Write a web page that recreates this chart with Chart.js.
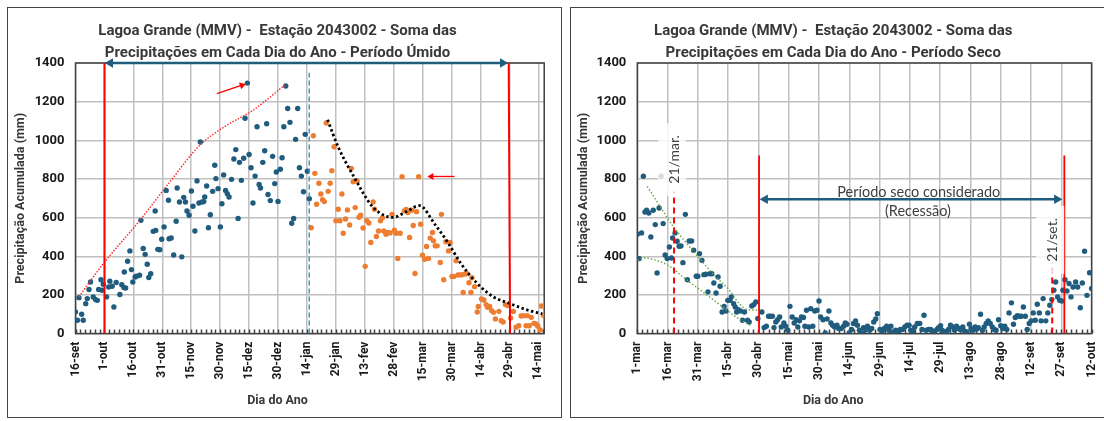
<!DOCTYPE html>
<html>
<head>
<meta charset="utf-8">
<script src="https://cdn.jsdelivr.net/npm/chart.js@4.4.1/dist/chart.umd.min.js"></script>
<style>
body { margin: 0; background: #fff; width: 1104px; height: 421px; overflow: hidden; position: relative; }
.box { position: absolute; top: 7px; height: 411px; border: 1px solid #444; box-sizing: border-box; background: #fff; overflow: hidden; }
#b1 { left: 7px; width: 555px; }
#b2 { left: 570px; width: 545px; }
canvas { display: block; }
</style>
</head>
<body>
<div class="box" id="b1"><canvas id="wet" width="553" height="409"></canvas></div>
<div class="box" id="b2"><canvas id="dry" width="543" height="409"></canvas></div>
<script>
// eixo x = dias contados a partir de 16-set (úmido) e de 1-mar (seco)
const wetTickLabels = ['16-set','1-out','16-out','31-out','15-nov','30-nov','15-dez','30-dez','14-jan','29-jan','13-fev','28-fev','15-mar','30-mar','14-abr','29-abr','14-mai'];
const dryTickLabels = ['1-mar','16-mar','31-mar','15-abr','30-abr','15-mai','30-mai','14-jun','29-jun','14-jul','29-jul','13-ago','28-ago','12-set','27-set','12-out'];

const wetBlueDays = [0,1,1.8,3.2,4,5.3,6.1,7,7.8,9.2,10.4,11.3,12,13.2,13.7,14.4,16.1,17.2,17.8,19,19.9,21.1,23,24,25.1,25.3,26,27,28.2,29,29.7,30.9,31.6,33.2,33.9,35.1,36.1,37.2,38,39,40.3,41.3,41.6,42.7,43.7,44.7,45.9,47,48.2,48.5,49.6,50.9,52.2,52.7,53.9,55.1,56.1,57,57.8,58.9,60.1,60.9,61.9,63,64,64.7,65.6,66.5,67,68,68.9,69.9,71.1,72.2,72.8,73.9,75.1,75.9,76.8,77.8,78.7,79.6,80.9,82.1,83.1,84.3,85,86,87.2,87.9,89.1,90,91,92,93.1,94.1,95.2,95.9,97.1,98.1,99.1,99.8,101,102.2,103.3,104.1,105,106.2,107.1,108,109,110,111.2,112.1,113.1,114.1,115.2,116.1,117.1,118.2,119.1,120.2,121.2];
const wetBlueValues = [112,69,186,100,69,155,181,228,267,190,176,172,228,279,224,255,190,241,271,245,138,264,202,253,238,319,236,374,428,331,267,293,297,302,586,440,410,359,290,310,529,634,534,436,434,488,552,741,690,491,495,407,581,753,681,397,705,681,634,612,738,659,531,790,676,991,681,683,707,764,548,615,736,871,802,750,552,672,821,741,724,707,798,903,952,596,886,793,907,1114,1296,927,858,676,815,1070,772,753,886,946,1086,720,688,917,776,836,684,850,910,1070,1281,1165,1093,571,596,1005,1165,858,815,734,1031,840,698];

const wetOrangeDays = [122.2,123.3,124.1,125,126.2,127.2,128.1,129,130,131,132,132.9,134.1,135,136.2,137.1,138.1,138.8,140,141,142.1,143,144,145,146,147,147.8,149.1,150.2,151,152.1,153.1,154.3,155,156,157.1,158.1,159.1,159.8,161,161.9,163.1,164.1,165.3,166.2,167.1,168.3,169.3,170.5,171.4,172.4,173.2,174.3,175.1,176,176.8,177.9,178.9,179.9,181,182,183,183.9,185.1,185.6,186.5,187.5,189.1,189.7,190.9,192,193.4,194.2,195.2,196.1,197.3,198.3,199.5,200.4,201,201.9,202.8,204,205,205.5,206.9,208.3,208.8,210.5,211.7,212.9,213.6,214.7,215.7,216.7,217.7,219.5,220.7,221.7,222.9,224,225.6,227,228.4,229.8,231,232.2,233.6,234.2,235.3,236.3,237.7,238.7,239.7,240.9,241.6,242.8];
const wetOrangeValues = [548,1024,829,669,778,722,693,683,1090,736,778,843,967,584,643,584,722,519,593,640,562,855,786,652,790,602,612,546,348,584,572,471,681,643,502,531,584,600,531,514,523,521,617,535,519,389,519,812,635,642,626,497,638,559,311,631,812,566,406,385,451,389,494,523,480,454,454,368,617,279,475,428,471,296,296,377,303,304,304,213,308,311,263,213,289,243,112,140,179,174,150,136,140,119,110,76,115,67,60,150,146,81,114,33,41,91,93,41,93,41,84,53,50,38,19,143,93];

const wetRiseDays = [1.8,14.3,33.2,48.7,64.2,77.9,91.7,108.5];
const wetRiseValues = [191,360,584,782,972,1075,1153,1286];
const wetFallDays = [130.7,136.3,145,153.5,160.4,164.7,170.7,178.4,186.2,193,200,208.5,217,224.8,234.3,242];
const wetFallValues = [1106,963,800,662,610,601,627,662,567,472,360,257,188,157,122,102];

const dryDays = [0,1,2.1,3,3.8,4.6,5.7,6.7,7.9,8.9,9.8,10.8,11.8,12.8,13.8,14.8,15.9,16.9,17.5,18.7,19.7,20.7,21.6,22.6,23.8,24.8,25.7,26.9,27.9,29.2,30,30.8,32,33,34,35,36,36.9,37.9,39,40,41,42,43,43.9,44.8,45.9,46.6,47.7,48.5,49.2,50,51.1,52.1,53.1,54.6,55.4,56.7,57.7,58.7,59.7,
  61.7,62.8,63.9,65,65.9,66.9,67.7,68.6,69.5,70.5,71.3,72.6,73.5,74.5,75.6,76.7,77.7,78.7,79.5,80.3,81.3,82.3,83,83.8,84.9,85.9,86.9,87.9,89,90,90.8,92,93.1,94,94.9,95.9,96.7,97.7,98.9,99.7,101,102.2,103,103.8,104.9,106.1,107.1,108.1,109,110,110.9,112,112.8,114,115.1,116.1,117.1,118.1,118.9,120.2,121.3,122.3,123.5,124.6,125.6,126.7,127.9,129.2,130.2,131.3,132.5,133.6,134.6,135.4,136.6,137.4,138.7,
  139.9,141,142,143.1,144.3,145.3,146.3,147.2,148.4,149.2,150.2,151,152,153.1,154.1,155.1,156.3,157.1,158.1,159.1,160,161.2,162,163.3,164.5,165.3,166.3,167.3,168.2,168.9,170,171,171.8,172.8,173.8,174.8,175.8,176.8,177.7,178.9,180,181,182,183,184.1,185.3,186.3,187.2,188.2,189.2,190.2,191.2,192.2,193.1,194.1,195.1,196.1,197.1,198.1,199.1,200,201,202.3,203.3,204.3,205.3,206.3,207.2,208.2,209.2,210.2,210.8,211.8,212.8,213.8,214.8,215.8,217.1,218.1,219.4,220.4,221.5,222.7,224,225];
const dryValues = [514,388,521,814,629,638,624,500,638,564,314,650,814,569,407,388,448,391,495,521,478,452,453,367,617,279,479,479,431,297,297,414,379,305,307,216,310,310,262,210,293,245,112,141,117,172,172,190,155,138,112,124,117,69,112,69,60,143,150,164,78,
  112,31,38,90,90,90,31,60,72,86,34,55,38,17,141,86,55,72,34,66,86,83,38,121,34,129,38,117,121,169,86,72,3,76,117,55,43,34,43,26,26,38,55,48,3,21,52,66,43,17,3,31,17,38,17,26,60,76,103,21,14,26,38,17,38,9,17,14,21,21,34,43,43,17,14,34,52,
  52,21,95,17,21,21,14,9,21,31,41,17,9,10,21,43,34,17,38,26,21,34,14,9,48,26,17,34,24,31,100,17,34,52,66,52,34,21,17,72,41,26,38,21,107,159,48,83,93,90,90,138,90,21,52,66,107,69,152,107,66,181,66,107,147,176,224,267,190,172,169,224,279,221,259,190,241,267,241,134,262,426,198,315,233];

const dryUpperDays = [4.9,13,17.7,25,31.6,37.4,45.6,50.5,54.6,59.5,61];
const dryUpperValues = [762,630,555,460,379,310,224,155,124,122,122];
const dryLowerDays = [0,3.8,9.5,16.1,22.6,29.2,35.7,42.3,48.9,53.8,56.2];
const dryLowerValues = [379,391,379,348,293,241,190,138,86,55,43];

const dryTagDays = [18.2, 205.5];
const dryTagValues = [901, 485];
const dryTagTexts = ['21/mar.', '21/set.'];

const pts = (xs, ys) => xs.map((x, i) => ({x: x, y: ys[i]}));
const BLUE = '#1f5c7e', ORANGE = '#ed7d31', RED = '#ff0000';
const FAM = 'Lato, "Open Sans", sans-serif';
const BOLD = 'Roboto, "Noto Sans", sans-serif';

function line(xs, ys, color, width, dash, extra) {
  return Object.assign({type: 'line', data: pts(xs, ys), borderColor: color, borderWidth: width,
    borderDash: dash || [], pointRadius: 0, fill: false, tension: 0}, extra || {});
}
function dots(xs, ys, color) {
  return {type: 'scatter', data: pts(xs, ys), backgroundColor: color, borderColor: color, borderWidth: 0, pointRadius: 2.7};
}
function arrow(xs, ys, color, width, radius, rotation) {
  return line(xs, ys, color, width, [], {pointStyle: 'triangle', pointRadius: radius, pointRotation: rotation,
    pointBackgroundColor: color, pointBorderWidth: 0, clip: false});
}

const frame = {
  id: 'frame',
  beforeDatasetsDraw(chart) {
    const {ctx, chartArea: a, scales: {x}} = chart;
    ctx.save();
    ctx.strokeStyle = '#404040';
    ctx.lineWidth = 1.5;
    ctx.strokeRect(a.left, a.top, a.right - a.left, a.bottom - a.top);
    ctx.beginPath();
    for (let d = 0; d <= x.max; d += 2.5) {
      const px = Math.round(x.getPixelForValue(d)) + 0.5;
      ctx.moveTo(px, a.bottom);
      ctx.lineTo(px, a.bottom - 4);
    }
    ctx.stroke();
    ctx.restore();
  }
};

const dryNotes = {
  id: 'dryNotes',
  afterDatasetsDraw(chart) {
    const {ctx, scales: {x, y}} = chart;
    ctx.save();
    ctx.font = '14px ' + FAM;
    dryTagTexts.forEach((t, i) => {
      const cx = x.getPixelForValue(dryTagDays[i]), cy = y.getPixelForValue(dryTagValues[i]);
      const w = ctx.measureText(t).width;
      ctx.save();
      ctx.translate(cx, cy);
      ctx.rotate(-Math.PI / 2);
      ctx.fillStyle = 'rgba(255,255,255,0.8)';
      ctx.fillRect(-w / 2 - 12, -16, w + 24, 28);
      ctx.fillStyle = '#404040';
      ctx.textAlign = 'center';
      ctx.textBaseline = 'middle';
      ctx.fillText(t, 0, 0);
      ctx.restore();
    });
    ctx.font = '14.5px ' + FAM;
    ctx.fillStyle = '#404040';
    ctx.textAlign = 'center';
    ctx.textBaseline = 'middle';
    ctx.fillText('Período seco considerado', x.getPixelForValue(139.4), y.getPixelForValue(732));
    ctx.fillText('(Recessão)', x.getPixelForValue(139), y.getPixelForValue(634));
    ctx.restore();
  }
};

function options(title, labels, max, yWidth, padRight) {
  return {
    responsive: false,
    animation: false,
    layout: {padding: {left: 0, right: padRight, top: 0, bottom: 0}},
    plugins: {
      legend: {display: false},
      tooltip: {enabled: false},
      title: {display: true, text: title, color: '#383838', font: {family: BOLD, size: 15, weight: 'bold', lineHeight: 1.467}, padding: {top: 12, bottom: -1}},
      subtitle: {display: true, position: 'bottom', text: 'Dia do Ano', color: '#383838', font: {family: BOLD, size: 12.5, weight: 'bold', lineHeight: 1.2}, padding: {top: 9, bottom: 9}}
    },
    scales: {
      x: {
        type: 'linear', min: 0, max: max,
        afterBuildTicks: ax => { ax.ticks = labels.map((l, i) => ({value: i * 15})); },
        afterFit: s => { s.height = 50.4; },
        ticks: {autoSkip: false, minRotation: 90, maxRotation: 90, padding: 8, color: '#1a1a1a',
          font: {family: BOLD, size: 12, weight: 'bold'}, callback: (v) => labels[Math.round(v / 15)]},
        grid: {color: '#c0c0c0', lineWidth: 1.5, drawTicks: false},
        border: {display: false}
      },
      y: {
        min: 0, max: 1400,
        afterFit: s => { s.width = yWidth; },
        ticks: {stepSize: 200, padding: 11, color: '#1a1a1a', font: {family: BOLD, size: 13, weight: 'bold'}, callback: v => String(v)},
        grid: {color: '#c0c0c0', lineWidth: 1.5, drawTicks: false},
        border: {display: false},
        title: {display: true, text: 'Precipitação Acumulada (mm)', color: '#383838',
          font: {family: BOLD, size: 12.5, weight: 'bold', lineHeight: 1.2}, padding: {top: 5, bottom: 0}}
      }
    }
  };
}

new Chart('wet', {
  type: 'scatter',
  data: {datasets: [
    arrow([18, 221.5], [1400, 1400], BLUE, 2.5, [5.5, 5.5], [270, 90]),
    arrow([73.3, 86.3], [1242, 1285], RED, 1.3, [0, 4], [0, 72]),
    arrow([196.5, 184.5], [813, 813], RED, 1.3, [0, 4], [0, 270]),
    line([15, 15], [0, 1400], RED, 2),
    line([225.3, 224.6], [0, 1400], RED, 2),
    line([121.2, 121.2], [0, 1350], '#3a9ad2', 1.5, [5, 3]),
    line(wetRiseDays, wetRiseValues, '#ff3030', 1.5, [1.5, 1.5], {cubicInterpolationMode: 'monotone'}),
    line(wetFallDays, wetFallValues, '#000000', 2.8, [2.4, 2.6], {cubicInterpolationMode: 'monotone'}),
    dots(wetOrangeDays, wetOrangeValues, ORANGE),
    dots(wetBlueDays, wetBlueValues, BLUE)
  ]},
  options: options(['Lagoa Grande (MMV) -  Estação 2043002 - Soma das', 'Precipitações em Cada Dia do Ano - Período Úmido'], wetTickLabels, 243, 67.5, 14),
  plugins: [frame]
});

new Chart('dry', {
  type: 'scatter',
  data: {datasets: [
    arrow([63.3, 207.8], [695, 695], BLUE, 2.5, [5.5, 5.5], [270, 90]),
    line([60.3, 60.3], [0, 921], RED, 1.8),
    line([211.5, 211.5], [0, 921], RED, 1.8),
    line([dryTagDays[0], dryTagDays[0]], [0, 735], RED, 2, [6, 4]),
    line([dryTagDays[1], dryTagDays[1]], [0, 368], RED, 2, [6, 4]),
    line(dryUpperDays, dryUpperValues, '#6aa84f', 1.5, [1.5, 2], {cubicInterpolationMode: 'monotone'}),
    line(dryLowerDays, dryLowerValues, '#6aa84f', 1.5, [1.5, 2], {cubicInterpolationMode: 'monotone'}),
    dots(dryDays, dryValues, BLUE)
  ]},
  options: options(['Lagoa Grande (MMV) -  Estação 2043002 - Soma das', 'Precipitações em Cada Dia do Ano - Período Seco'], dryTickLabels, 225, 66.3, 18.5),
  plugins: [frame, dryNotes]
});
</script>
</body>
</html>
